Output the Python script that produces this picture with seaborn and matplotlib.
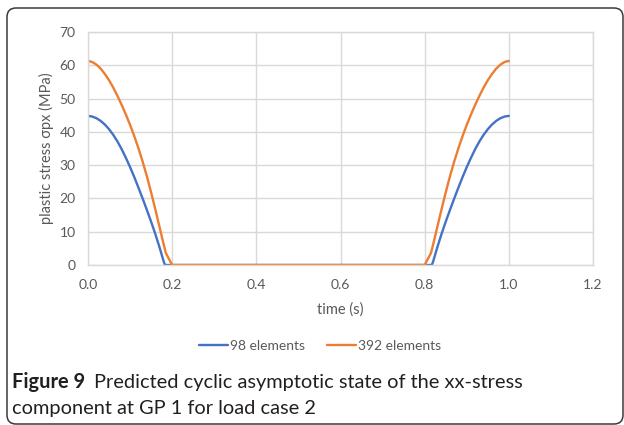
import matplotlib
matplotlib.use("Agg")
import matplotlib.pyplot as plt
import numpy as np
import pandas as pd
import seaborn as sns
from matplotlib.lines import Line2D
from matplotlib.patches import FancyBboxPatch
from matplotlib.transforms import IdentityTransform

# ---------------- data ----------------
series_names = ["98 elements", "392 elements"]

time_98 = [0.00, 0.01, 0.02, 0.03, 0.04, 0.05, 0.06, 0.07, 0.08, 0.09,
           0.10, 0.11, 0.12, 0.13, 0.14, 0.15, 0.16, 0.17, 0.18, 0.183,
           0.2, 0.3, 0.4, 0.5, 0.6, 0.7, 0.8,
           0.817, 0.82, 0.83, 0.84, 0.85, 0.86, 0.87, 0.88, 0.89, 0.90,
           0.91, 0.92, 0.93, 0.94, 0.95, 0.96, 0.97, 0.98, 0.99, 1.00]
stress_98 = [44.8, 44.6, 44.1, 43.3, 42.2, 40.8, 39.1, 37.1, 34.8, 32.2,
             29.4, 26.4, 23.2, 19.9, 16.5, 13.0, 9.3, 5.3, 1.0, 0.0,
             0.0, 0.0, 0.0, 0.0, 0.0, 0.0, 0.0,
             0.0, 1.0, 5.3, 9.3, 13.0, 16.5, 19.9, 23.2, 26.4, 29.4,
             32.2, 34.8, 37.1, 39.1, 40.8, 42.2, 43.3, 44.1, 44.6, 44.8]

time_392 = [0.00, 0.01, 0.02, 0.03, 0.04, 0.05, 0.06, 0.07, 0.08, 0.09,
            0.10, 0.11, 0.12, 0.13, 0.14, 0.15, 0.16, 0.17, 0.18, 0.185,
            0.2, 0.3, 0.4, 0.5, 0.6, 0.7, 0.8,
            0.815, 0.82, 0.83, 0.84, 0.85, 0.86, 0.87, 0.88, 0.89, 0.90,
            0.91, 0.92, 0.93, 0.94, 0.95, 0.96, 0.97, 0.98, 0.99, 1.00]
stress_392 = [61.3, 61.0, 60.2, 59.0, 57.4, 55.5, 53.3, 50.8, 48.1, 45.2,
              42.1, 38.7, 35.0, 31.0, 26.6, 21.8, 16.7, 11.4, 6.1, 3.6,
              0.0, 0.0, 0.0, 0.0, 0.0, 0.0, 0.0,
              3.6, 6.1, 11.4, 16.7, 21.8, 26.6, 31.0, 35.0, 38.7, 42.1,
              45.2, 48.1, 50.8, 53.3, 55.5, 57.4, 59.0, 60.2, 61.0, 61.3]

x_ticks = [0.0, 0.2, 0.4, 0.6, 0.8, 1.0, 1.2]
y_ticks = [0, 10, 20, 30, 40, 50, 60, 70]

x_label = "time (s)"
y_label = "plastic stress σpx (MPa)"
caption_bold = "Figure 9"
caption_line1 = "Predicted cyclic asymptotic state of the xx-stress"
caption_line2 = "component at GP 1 for load case 2"

colors = ["#4472C4", "#ED7D31"]

df = pd.concat([
    pd.DataFrame({"time": time_98, "stress": stress_98, "series": series_names[0]}),
    pd.DataFrame({"time": time_392, "stress": stress_392, "series": series_names[1]}),
], ignore_index=True)

# ---------------- style ----------------
sns.set_theme(style="whitegrid")
plt.rcParams['font.family'] = ['Lato', 'DejaVu Sans']

W, H = 624, 425
fig = plt.figure(figsize=(W / 100, H / 100), dpi=100)
fig.patch.set_facecolor("white")

ax_l, ax_r, ax_t, ax_b = 88, 593, 32, 265
ax = fig.add_axes([ax_l / W, 1 - ax_b / H, (ax_r - ax_l) / W, (ax_b - ax_t) / H])
ax.set_facecolor("white")

sns.lineplot(data=df, x="time", y="stress", hue="series", hue_order=series_names,
             palette=colors, estimator=None, sort=False, linewidth=1.7,
             legend=False, ax=ax)

ax.set_xlim(x_ticks[0], x_ticks[-1])
ax.set_ylim(y_ticks[0], y_ticks[-1])
ax.set_xticks(x_ticks)
ax.set_yticks(y_ticks)
ax.set_xticklabels([f"{v:.1f}" for v in x_ticks])
ax.set_yticklabels([f"{v:d}" for v in y_ticks])
ax.grid(True, color="#d9d9d9", linewidth=1.0)
for s in ax.spines.values():
    s.set_color("#d9d9d9")
    s.set_linewidth(1.0)
ax.tick_params(axis="both", length=0, labelsize=10, colors="#595959")
ax.tick_params(axis="y", pad=9)
ax.tick_params(axis="x", pad=10)

ax.set_xlabel(x_label, fontsize=10.5, color="#595959", va="center")
ax.set_ylabel(y_label, fontsize=10.5, color="#595959", va="center")
ax.xaxis.set_label_coords(0.5, (ax_b - 310) / (ax_b - ax_t))
ax.yaxis.set_label_coords((46 - ax_l) / (ax_r - ax_l), 0.5)

# legend
handles = [Line2D([], [], color=c, linewidth=1.7) for c in colors]
fig.legend(handles, series_names, loc="center", bbox_to_anchor=(320 / W, 1 - 346 / H),
           ncol=2, frameon=False, fontsize=10, labelcolor="#595959",
           handlelength=2.1, handletextpad=0.15, columnspacing=1.6)

# caption
cap_font = ['Lato', 'DejaVu Sans']
fig.canvas.draw()
r = fig.canvas.get_renderer()
probe = fig.text(0, 0, caption_line2, fontsize=12, family=cap_font)
w = probe.get_window_extent(renderer=r).width
probe.remove()
fs = 12 * 304 / w

x0 = 12
tb = fig.text(x0 / W, 1 - 388 / H, caption_bold, fontsize=fs, weight="bold",
              family=cap_font, color="#231f20", va="baseline")
fig.canvas.draw()
bx = tb.get_window_extent(renderer=r).x1
fig.text((bx + 9) / W, 1 - 388 / H, caption_line1, fontsize=fs, family=cap_font,
         color="#231f20", va="baseline")
fig.text(x0 / W, 1 - 414 / H, caption_line2, fontsize=fs, family=cap_font,
         color="#231f20", va="baseline")

# outer rounded frame
frame = FancyBboxPatch((7, 1), 616, H - 9, boxstyle="round,pad=0,rounding_size=9",
                       transform=IdentityTransform(), fill=False,
                       edgecolor="#3a3a3a", linewidth=1.1, clip_on=False)
fig.add_artist(frame)

fig.savefig("out.png", dpi=100)
